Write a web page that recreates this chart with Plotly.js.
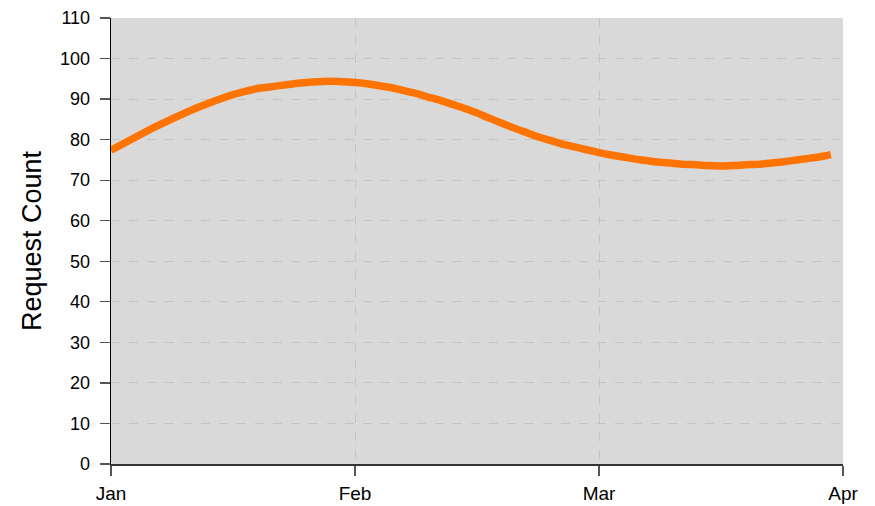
<!DOCTYPE html>
<html>
<head>
<meta charset="utf-8">
<script src="https://cdn.plot.ly/plotly-3.0.1.min.js"></script>
<style>html,body{margin:0;padding:0;background:#fff;}#chart{width:875px;height:506px;}</style>
</head>
<body>
<div id="chart"></div>
<script>
var dayIndex = [];
for (var i = 0; i < 60; i++) dayIndex.push(i);
var requestCount = [
  77.4, 79.0, 80.6, 82.2, 83.7, 85.1, 86.5, 87.8, 89.0, 90.1,
  91.1, 91.9, 92.6, 93.0, 93.4, 93.8, 94.1, 94.3, 94.4, 94.3,
  94.1, 93.8, 93.3, 92.8, 92.1, 91.4, 90.5, 89.7, 88.7, 87.7,
  86.6, 85.3, 84.1, 82.9, 81.8, 80.7, 79.8, 78.9, 78.2, 77.5,
  76.8, 76.2, 75.7, 75.2, 74.8, 74.4, 74.2, 73.9, 73.8, 73.6,
  73.5, 73.6, 73.8, 73.9, 74.2, 74.5, 74.9, 75.3, 75.7, 76.3
];
var monthTickVals = [0, 20, 40, 60];
var monthTickText = ['Jan', 'Feb', 'Mar', 'Apr'];
var yTickVals = [0,10,20,30,40,50,60,70,80,90,100,110];

var trace = {
  x: dayIndex,
  y: requestCount,
  type: 'scatter',
  mode: 'lines',
  line: {color: '#ff7300', width: 7.5, shape: 'spline', smoothing: 0.6},
  hoverinfo: 'skip'
};

var layout = {
  width: 875, height: 506,
  margin: {l: 111, r: 32, t: 18, b: 42},
  paper_bgcolor: '#ffffff',
  plot_bgcolor: '#d9d9d9',
  showlegend: false,
  font: {family: 'Liberation Sans, Arial, sans-serif', size: 19, color: '#000'},
  xaxis: {
    range: [0, 60],
    tickmode: 'array',
    tickvals: monthTickVals,
    ticktext: monthTickText,
    ticks: 'outside', ticklen: 10, tickcolor: '#555', tickwidth: 1.3,
    ticklabelstandoff: 1,
    showline: true, linecolor: '#333', linewidth: 2,
    showgrid: true, gridcolor: '#c4c4c4', griddash: 'dash', gridwidth: 1,
    zeroline: false,
    tickfont: {size: 19, color: '#000'}
  },
  yaxis: {
    range: [0, 110],
    tickmode: 'array',
    tickvals: yTickVals,
    ticks: 'outside', ticklen: 10, tickcolor: '#555', tickwidth: 1.3,
    ticklabelstandoff: 6,
    showline: true, linecolor: '#000', linewidth: 1.3,
    showgrid: true, gridcolor: '#c4c4c4', griddash: 'dash', gridwidth: 1,
    zeroline: false,
    tickfont: {size: 18, color: '#000'},
    title: {text: 'Request Count', font: {size: 27, color: '#000'}, standoff: 10}
  }
};

Plotly.newPlot('chart', [trace], layout, {displayModeBar: false, staticPlot: true});
</script>
</body>
</html>
